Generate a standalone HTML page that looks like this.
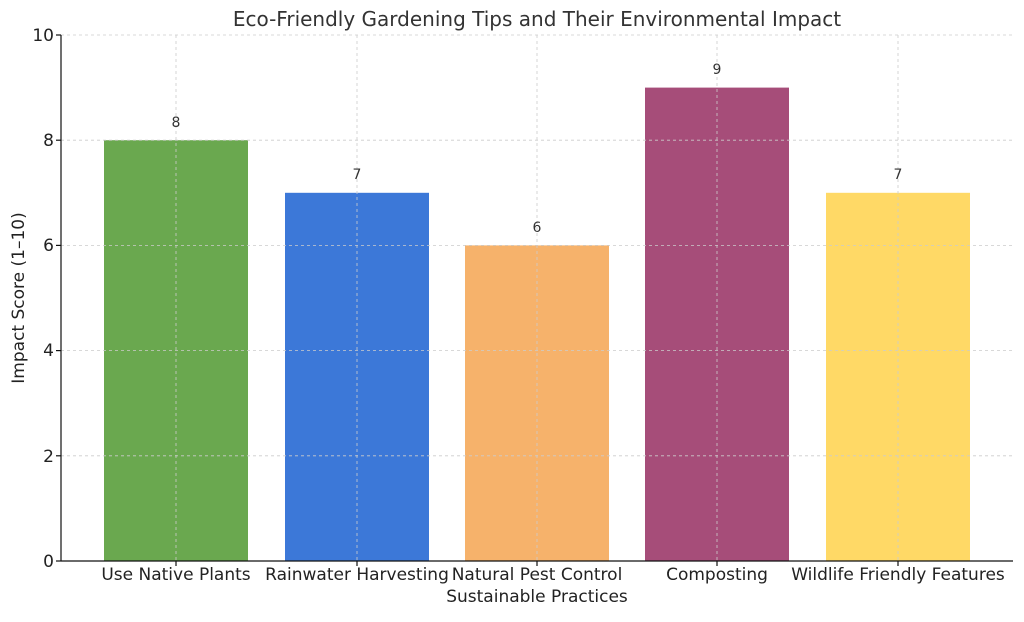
<!DOCTYPE html>
<html><head><meta charset="utf-8"><style>body{margin:0;background:#fff}</style></head><body>
<svg width="1024" height="617" xmlns="http://www.w3.org/2000/svg" font-family="DejaVu Sans, Liberation Sans, sans-serif">
<rect width="1024" height="617" fill="#fff"/>
<rect x="104" y="140.2" width="144" height="420.8" fill="#6aa84f"/>
<rect x="285" y="192.8" width="144" height="368.2" fill="#3c78d8"/>
<rect x="465" y="245.4" width="144" height="315.6" fill="#f6b26b"/>
<rect x="645" y="87.6" width="144" height="473.4" fill="#a64d79"/>
<rect x="826" y="192.8" width="144" height="368.2" fill="#ffd966"/>
<g stroke="#cccccc" stroke-width="0.8" stroke-dasharray="3,3">
<line x1="176" x2="176" y1="35" y2="561"/><line x1="357" x2="357" y1="35" y2="561"/>
<line x1="537" x2="537" y1="35" y2="561"/><line x1="717" x2="717" y1="35" y2="561"/>
<line x1="898" x2="898" y1="35" y2="561"/>
<line x1="61" x2="1013" y1="35" y2="35"/>
<line x1="61" x2="1013" y1="140.2" y2="140.2"/>
<line x1="61" x2="1013" y1="245.4" y2="245.4"/><line x1="61" x2="1013" y1="350.6" y2="350.6"/>
<line x1="61" x2="1013" y1="455.8" y2="455.8"/>
</g>
<g stroke="#111" stroke-width="1.2"><line x1="61" x2="61" y1="35" y2="561"/><line x1="61" x2="1013" y1="561" y2="561"/>
<line x1="56" x2="61" y1="35" y2="35"/><line x1="56" x2="61" y1="140.2" y2="140.2"/><line x1="56" x2="61" y1="245.4" y2="245.4"/><line x1="56" x2="61" y1="350.6" y2="350.6"/><line x1="56" x2="61" y1="455.8" y2="455.8"/><line x1="56" x2="61" y1="561" y2="561"/>
<line x1="176" x2="176" y1="561" y2="566"/><line x1="357" x2="357" y1="561" y2="566"/><line x1="537" x2="537" y1="561" y2="566"/><line x1="717" x2="717" y1="561" y2="566"/><line x1="898" x2="898" y1="561" y2="566"/></g>
<g font-size="17" fill="#222" text-anchor="end">
<text x="54" y="41">10</text><text x="54" y="146">8</text><text x="54" y="251">6</text><text x="54" y="356">4</text><text x="54" y="462">2</text><text x="54" y="567">0</text></g>
<g font-size="17" fill="#222" text-anchor="middle">
<text x="176" y="580">Use Native Plants</text><text x="357" y="580">Rainwater Harvesting</text><text x="537" y="580">Natural Pest Control</text><text x="717" y="580">Composting</text><text x="898" y="580">Wildlife Friendly Features</text>
<text x="537" y="602">Sustainable Practices</text>
<text x="537" y="26" font-size="20" fill="#333">Eco-Friendly Gardening Tips and Their Environmental Impact</text></g>
<g font-size="14" fill="#333" text-anchor="middle">
<text x="176" y="127">8</text><text x="357" y="179">7</text><text x="537" y="232">6</text><text x="717" y="74">9</text><text x="898" y="179">7</text></g>
<text transform="translate(24,298) rotate(-90)" font-size="17" fill="#222" text-anchor="middle">Impact Score (1–10)</text>
</svg>
</body></html>
